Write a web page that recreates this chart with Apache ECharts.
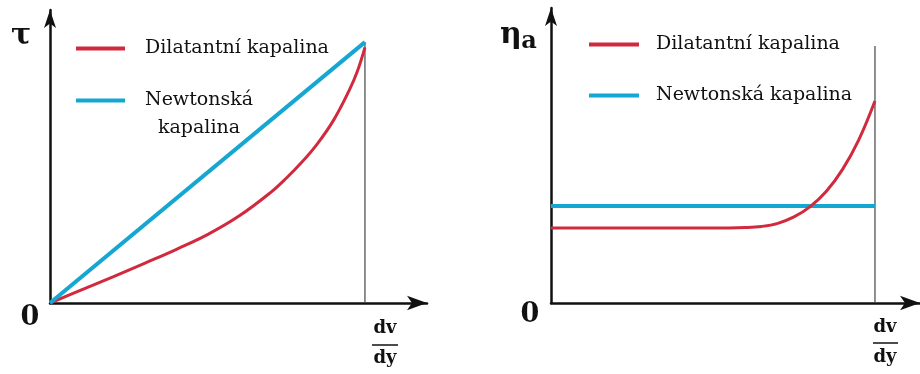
<!DOCTYPE html>
<html>
<head>
<meta charset="utf-8">
<title>Dilatantní kapalina</title>
<script src="https://cdn.jsdelivr.net/npm/echarts@6/dist/echarts.min.js"></script>
<style>
  html, body { margin: 0; padding: 0; background: #fff; }
  #chart { width: 920px; height: 374px; }
</style>
</head>
<body>
<div id="chart"></div>
<script>
// hodnoty (x i y v poměru k bodu dv/dy = 1)
var seriesNames = ['Dilatantní kapalina', 'Newtonská kapalina'];

// levý graf: tau v závislosti na dv/dy
var tauDilatant = [
  [0, 0], [0.1, 0.05], [0.2, 0.1], [0.3, 0.152], [0.4, 0.205],
  [0.5, 0.262], [0.6, 0.333], [0.7, 0.423], [0.75, 0.478], [0.8, 0.54],
  [0.85, 0.612], [0.9, 0.7], [0.95, 0.815], [0.975, 0.885], [1, 0.98]
];
var tauNewton = [[0, 0], [1, 1]];

// pravý graf: zdánlivá viskozita
var etaDilatant = [
  [0, 0.292], [0.5, 0.292], [0.6, 0.294], [0.65, 0.298], [0.7, 0.31],
  [0.75, 0.335], [0.8, 0.375], [0.85, 0.435], [0.9, 0.52], [0.95, 0.635],
  [1, 0.786]
];
var etaNewton = [[0, 0.377], [1, 0.377]];

// svislá čára v bodě dv/dy
var markLeft = [[1, 0], [1, 1]];
var markRight = [[1, 0], [1, 1]];

// rozsahy os (šipky přesahují bod 1)
var leftXMax = 1.197, leftYMax = 1.123;
var rightXMax = 1.139, rightYMax = 1.148;

var RED = '#d12a3f';
var BLUE = '#16a6d2';
var INK = '#111';
var SERIF = 'DejaVu Serif';

window.onload = function() {
  drawChart();
}

function axis(max, arrow) {
  return {
    type: 'value',
    min: 0,
    max: max,
    axisLine: {
      show: true,
      symbol: ['none', 'arrow'],
      symbolSize: arrow,
      lineStyle: {color: INK, width: 2.5}
    },
    axisTick: {show: false},
    axisLabel: {show: false},
    splitLine: {show: false}
  };
}

function legendRich(gap) {
  return {
    s: {width: gap, lineHeight: 28, fontSize: 19, fontFamily: SERIF},
    c: {fontSize: 19, fontFamily: SERIF, lineHeight: 28, color: INK},
    n: {fontSize: 19, fontFamily: SERIF, lineHeight: 28, color: INK, align: 'center'}
  };
}

function txt(text, x, y, size) {
  return {
    type: 'text',
    silent: true,
    style: {
      text: text, x: x, y: y,
      fontSize: size, fontWeight: 'bold', fontFamily: SERIF,
      fill: INK,
      align: 'center', verticalAlign: 'middle',
      textAlign: 'center', textVerticalAlign: 'middle'
    }
  };
}

function bar(x1, x2, y) {
  return {
    type: 'line',
    silent: true,
    shape: {x1: x1, y1: y, x2: x2, y2: y},
    style: {stroke: INK, lineWidth: 1.5}
  };
}

function drawChart() {
  var chart = echarts.init(document.getElementById('chart'));
  var option = {
    animation: false,
    grid: [
      {left: 50, top: 10, width: 377, height: 293},
      {left: 551, top: 8, width: 369, height: 295}
    ],
    xAxis: [
      Object.assign(axis(leftXMax, [11, 20]), {gridIndex: 0}),
      Object.assign(axis(rightXMax, [11, 20]), {gridIndex: 1})
    ],
    yAxis: [
      Object.assign(axis(leftYMax, [9, 18]), {gridIndex: 0}),
      Object.assign(axis(rightYMax, [9, 18]), {gridIndex: 1})
    ],
    legend: [
      {
        data: seriesNames,
        left: 76, top: 39, padding: 0,
        orient: 'vertical',
        icon: 'rect',
        itemWidth: 49, itemHeight: 4, itemGap: 5,
        selectedMode: false,
        formatter: function(name) {
          if (name === 'Newtonská kapalina') {
            return '{s| }\n{s| }{n|Newtonská}\n{s| }{n|kapalina}';
          }
          return '{s| }{c|' + name + '}';
        },
        textStyle: {fontSize: 19, fontFamily: SERIF, color: INK, rich: legendRich(15)}
      },
      {
        data: seriesNames,
        left: 589, top: 35, padding: 0,
        orient: 'vertical',
        icon: 'rect',
        itemWidth: 50, itemHeight: 4, itemGap: 32,
        selectedMode: false,
        formatter: function(name) {
          return '{s| }{c|' + name + '}';
        },
        textStyle: {fontSize: 19, fontFamily: SERIF, color: INK, rich: legendRich(12)}
      }
    ],
    graphic: [
      txt('τ', 21, 36, 30),
      txt('0', 30, 318, 27),
      txt('dv', 385, 328, 18),
      bar(372, 398, 345),
      txt('dy', 385, 358, 18),
      txt('η', 511, 35, 30),
      txt('a', 529, 42, 24),
      txt('0', 530, 315, 27),
      txt('dv', 885, 327, 18),
      bar(873, 898, 343),
      txt('dy', 885, 357, 18)
    ],
    series: [
      {
        type: 'line', xAxisIndex: 0, yAxisIndex: 0,
        data: markLeft, symbol: 'none', silent: true,
        lineStyle: {color: '#444', width: 1.2}
      },
      {
        name: seriesNames[0], type: 'line', xAxisIndex: 0, yAxisIndex: 0,
        data: tauDilatant, smooth: 0.4, symbol: 'none',
        itemStyle: {color: RED}, lineStyle: {color: RED, width: 3}
      },
      {
        name: seriesNames[1], type: 'line', xAxisIndex: 0, yAxisIndex: 0,
        data: tauNewton, symbol: 'none',
        itemStyle: {color: BLUE}, lineStyle: {color: BLUE, width: 4}
      },
      {
        type: 'line', xAxisIndex: 1, yAxisIndex: 1,
        data: markRight, symbol: 'none', silent: true,
        lineStyle: {color: '#444', width: 1.2}
      },
      {
        name: seriesNames[1], type: 'line', xAxisIndex: 1, yAxisIndex: 1,
        data: etaNewton, symbol: 'none',
        itemStyle: {color: BLUE}, lineStyle: {color: BLUE, width: 4}
      },
      {
        name: seriesNames[0], type: 'line', xAxisIndex: 1, yAxisIndex: 1,
        data: etaDilatant, smooth: 0.4, symbol: 'none',
        itemStyle: {color: RED}, lineStyle: {color: RED, width: 3}
      }
    ]
  };
  chart.setOption(option);
}
</script>
</body>
</html>
